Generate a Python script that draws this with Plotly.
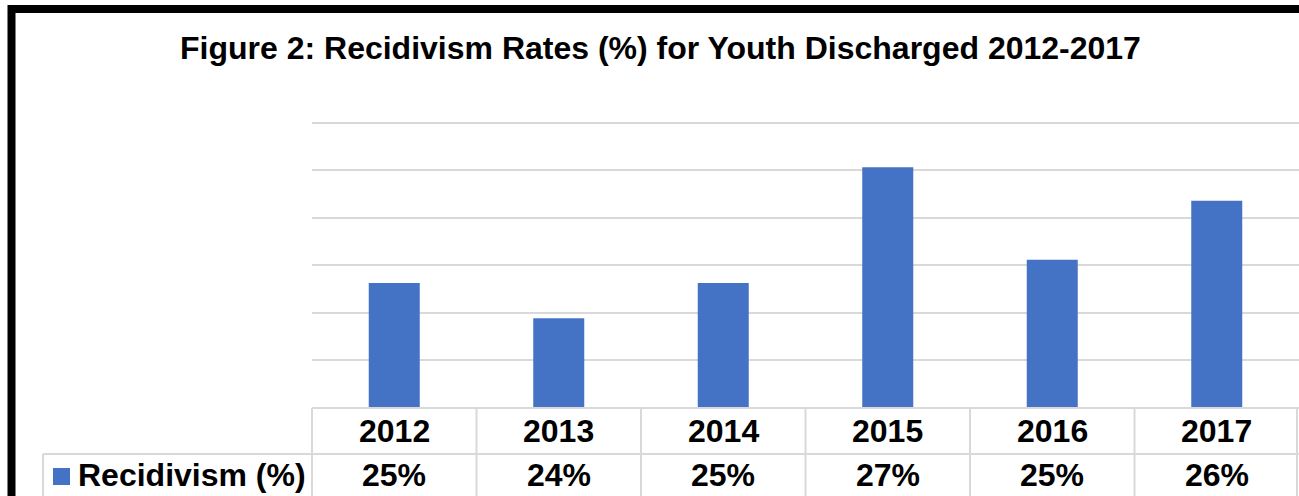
import plotly.graph_objects as go

years = ["2012", "2013", "2014", "2015", "2016", "2017"]
recidivism = [24.63, 23.89, 24.63, 27.07, 25.12, 26.36]
series_name = "Recidivism (%)"
title = "Figure 2: Recidivism Rates (%) for Youth Discharged 2012-2017"
axis_min, axis_max = 22, 28

W, H = 1299, 496
FONT = "Liberation Sans, Arial, sans-serif"
BLUE = "#4472C4"
GRID = "#D9D9D9"

# pixel geometry
px_left, px_right = 312, 1299
py_top, py_bottom = 122, 408
row1_bottom = 454
leg_left = 43

def fx(p):
    return p / W

def fy(p):
    return 1 - p / H

fig = go.Figure()
fig.add_trace(go.Bar(
    x=years, y=recidivism, marker=dict(color=BLUE, line=dict(width=0)),
    width=0.31, name=series_name, showlegend=False, hoverinfo="skip",
))

fig.update_layout(
    width=W, height=H, margin=dict(l=0, r=0, t=0, b=0),
    paper_bgcolor="white", plot_bgcolor="white",
    xaxis=dict(domain=[fx(px_left), fx(px_right)], showticklabels=False,
               showgrid=False, zeroline=False, showline=False, fixedrange=True),
    yaxis=dict(domain=[fy(py_bottom), fy(py_top)], range=[axis_min, axis_max + 0.02], dtick=1, tick0=axis_min,
               showticklabels=False, showgrid=True, gridcolor=GRID, gridwidth=2,
               zeroline=False, showline=False, fixedrange=True),
    bargap=0.69,
    font=dict(family=FONT, color="black"),
)

shapes = []
annotations = []

# top gridline (explicit, at axis max)
shapes.append(dict(type="line", xref="paper", yref="y", x0=fx(px_left), x1=fx(px_right),
                   y0=axis_max, y1=axis_max, line=dict(color=GRID, width=2), layer="below"))

# title
annotations.append(dict(text="<b>%s</b>" % title, x=fx(660), y=fy(48), xref="paper", yref="paper",
                        showarrow=False, xanchor="center", yanchor="middle",
                        font=dict(size=32, family=FONT, color="black")))

# table lines
n = len(years)
colw = (px_right - px_left) / n
line = dict(color=GRID, width=2)
shapes.append(dict(type="line", xref="paper", yref="paper", x0=fx(px_left), x1=fx(px_right),
                   y0=fy(py_bottom), y1=fy(py_bottom), line=line))
shapes.append(dict(type="line", xref="paper", yref="paper", x0=fx(leg_left), x1=fx(px_right),
                   y0=fy(row1_bottom), y1=fy(row1_bottom), line=line))
for k in range(n + 1):
    xp = px_left + k * colw
    if k == n:
        xp = px_right - 2
    shapes.append(dict(type="line", xref="paper", yref="paper", x0=fx(xp), x1=fx(xp),
                       y0=fy(py_bottom), y1=fy(H + 5), line=line))
shapes.append(dict(type="line", xref="paper", yref="paper", x0=fx(leg_left), x1=fx(leg_left),
                   y0=fy(row1_bottom), y1=fy(H + 5), line=line))

for i, (yr, v) in enumerate(zip(years, recidivism)):
    cx = px_left + (i + 0.5) * colw
    annotations.append(dict(text="<b>%s</b>" % yr, x=fx(cx), y=fy(431), xref="paper", yref="paper",
                            showarrow=False, xanchor="center", yanchor="middle",
                            font=dict(size=32, family=FONT, color="black")))
    annotations.append(dict(text="<b>%d%%</b>" % round(v), x=fx(cx), y=fy(475), xref="paper", yref="paper",
                            showarrow=False, xanchor="center", yanchor="middle",
                            font=dict(size=32, family=FONT, color="black")))

# legend key
shapes.append(dict(type="rect", xref="paper", yref="paper", x0=fx(53), x1=fx(70),
                   y0=fy(485), y1=fy(468), fillcolor=BLUE, line=dict(width=0)))
annotations.append(dict(text="<b>%s</b>" % series_name, x=fx(76), y=fy(475), xref="paper", yref="paper",
                        showarrow=False, xanchor="left", yanchor="middle",
                        font=dict(size=32, family=FONT, color="black")))

# outer black frame (cut by image edges)
shapes.append(dict(type="rect", xref="paper", yref="paper", x0=fx(11.5), x1=fx(W + 20),
                   y0=fy(H + 20), y1=fy(9), line=dict(color="black", width=8)))

fig.update_layout(shapes=shapes, annotations=annotations)
fig.write_html("out.html")
